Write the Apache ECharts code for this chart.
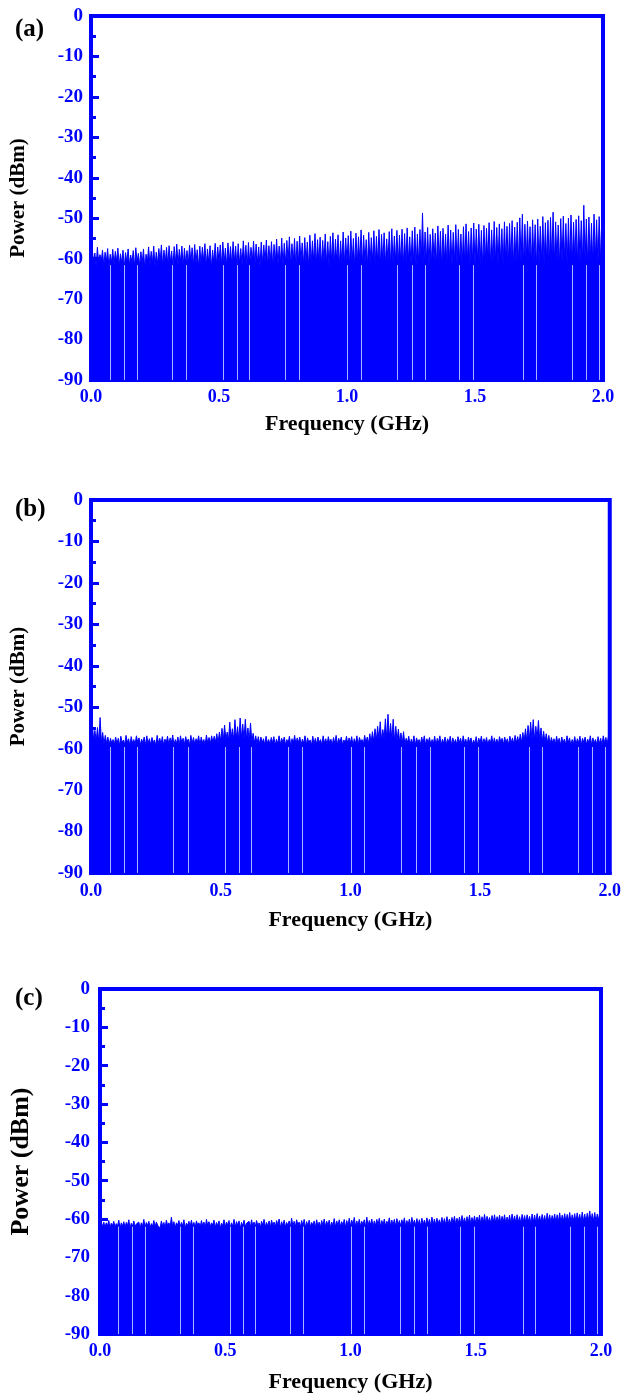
<!DOCTYPE html>
<html>
<head>
<meta charset="utf-8">
<script src="https://cdn.jsdelivr.net/npm/echarts@6.0.0/dist/echarts.min.js"></script>
<style>
  html, body { margin: 0; padding: 0; background: #fff; }
  #main { width: 624px; height: 1395px; }
</style>
</head>
<body>
<div id="main"></div>
<script>
// spectrum samples, 0.005 GHz apart, 0.0 .. 2.0 GHz
var freqStep = 0.005;

var powerA = [
  -61.5,-57.8,-60.9,-58.6,-62.0,-57.2,-61.2,-59.0,-60.6,-57.9,-61.8,-58.4,-60.8,-57.5,-62.2,-58.9,-61.0,-57.7,-61.6,-58.2,
  -60.7,-57.4,-61.9,-58.8,-61.1,-57.9,-62.3,-58.5,-60.9,-57.6,-61.5,-59.1,-61.0,-58.0,-62.1,-57.3,-60.8,-58.7,-61.7,-58.3,
  -61.2,-57.6,-62.4,-58.9,-60.9,-57.1,-61.6,-58.2,-61.0,-56.9,-62.0,-58.4,-61.3,-57.5,-60.8,-56.6,-61.9,-57.9,-61.1,-57.2,
  -61.7,-56.8,-60.9,-58.1,-62.1,-57.0,-61.2,-56.4,-61.6,-57.7,-60.8,-56.9,-62.0,-57.4,-61.3,-58.0,-61.5,-56.7,-60.9,-57.3,
  -61.8,-56.5,-61.0,-57.8,-62.2,-56.9,-61.4,-57.2,-60.7,-56.3,-61.9,-57.6,-61.1,-56.8,-62.3,-57.9,-61.2,-56.2,-61.6,-57.1,
  -60.9,-56.6,-61.8,-55.9,-61.2,-57.4,-62.0,-56.1,-61.0,-57.0,-61.7,-55.8,-60.8,-56.9,-62.1,-56.3,-61.3,-57.5,-61.6,-55.6,
  -61.0,-56.7,-62.2,-56.0,-61.4,-57.2,-60.9,-55.7,-61.8,-56.4,-61.1,-57.1,-62.0,-55.9,-61.3,-56.6,-60.8,-55.4,-61.7,-56.8,
  -61.2,-55.8,-62.1,-56.5,-60.9,-55.2,-61.6,-56.9,-61.0,-54.9,-61.9,-56.2,-61.3,-55.5,-60.7,-54.6,-61.8,-56.3,-61.1,-55.0,
  -62.0,-55.7,-61.2,-54.4,-60.8,-56.1,-61.7,-54.8,-61.0,-55.9,-62.2,-54.2,-61.3,-55.6,-60.9,-53.8,-61.6,-55.3,-61.1,-54.7,
  -61.9,-55.5,-60.8,-53.9,-61.4,-55.8,-62.1,-54.5,-61.0,-53.6,-61.7,-55.2,-60.9,-54.1,-62.0,-55.6,-61.2,-53.4,-61.5,-54.9,
  -60.8,-54.3,-61.9,-53.2,-61.1,-55.0,-62.2,-53.7,-61.3,-54.6,-60.7,-52.9,-61.8,-54.2,-61.0,-55.3,-62.0,-53.5,-61.4,-54.8,
  -60.9,-53.1,-61.7,-54.5,-61.2,-52.8,-62.1,-54.0,-61.0,-53.6,-61.6,-55.1,-60.8,-53.3,-61.9,-52.6,-61.3,-54.4,-60.9,-53.0,
  -61.8,-54.2,-61.1,-52.7,-62.0,-53.8,-61.4,-52.4,-60.7,-54.6,-61.7,-53.1,-61.0,-52.2,-62.2,-53.9,-61.3,-52.8,-60.8,-48.7,
  -61.6,-53.4,-61.0,-52.3,-61.9,-54.0,-61.2,-52.6,-60.6,-53.7,-61.8,-51.9,-61.1,-53.2,-62.4,-52.5,-60.9,-53.9,-61.5,-51.7,
  -61.0,-52.9,-61.8,-53.5,-60.8,-51.6,-61.6,-52.8,-61.1,-53.9,-62.0,-52.1,-61.3,-51.4,-60.7,-53.3,-61.9,-52.4,-61.0,-51.2,
  -61.7,-52.7,-60.9,-51.5,-61.4,-53.0,-62.1,-51.8,-61.0,-52.5,-60.6,-51.1,-61.8,-52.9,-61.2,-50.8,-60.8,-52.3,-61.6,-51.4,
  -61.0,-52.6,-61.9,-50.9,-60.7,-52.0,-61.5,-51.3,-61.1,-50.6,-62.0,-52.2,-60.9,-51.0,-61.4,-49.9,-60.8,-49.0,-61.7,-51.5,
  -61.1,-50.7,-60.6,-52.1,-61.8,-50.4,-61.0,-51.6,-62.6,-50.2,-61.3,-52.0,-60.7,-49.6,-61.5,-51.1,-60.9,-50.5,-61.8,-49.8,
  -60.8,-48.5,-61.4,-50.9,-60.6,-51.7,-61.9,-50.1,-61.0,-49.5,-60.5,-51.3,-61.6,-50.0,-60.9,-49.2,-61.2,-51.0,-60.4,-50.3,
  -61.5,-49.4,-60.8,-50.6,-61.1,-46.8,-60.6,-50.2,-61.7,-49.7,-60.9,-51.2,-61.3,-49.0,-60.5,-50.4,-61.4,-49.6,-60.7,-50.8,
  -60.9
];

var powerB = [
  -55.2,-54.0,-57.8,-55.6,-58.2,-54.9,-58.6,-52.5,-58.4,-56.1,-58.9,-56.8,-58.7,-57.2,-59.1,-57.5,-58.7,-57.8,-59.0,-57.2,
  -58.8,-57.5,-59.2,-57.0,-58.6,-57.9,-59.0,-56.8,-58.5,-57.6,-59.3,-57.1,-58.7,-57.8,-59.0,-56.9,-58.4,-57.4,-59.1,-57.7,
  -58.6,-57.2,-59.2,-56.9,-58.8,-57.6,-59.0,-57.3,-58.5,-57.9,-59.3,-56.8,-58.7,-57.5,-58.9,-57.1,-59.2,-57.7,-58.6,-57.0,
  -59.0,-57.4,-58.5,-56.7,-59.1,-57.8,-58.7,-57.2,-59.2,-56.9,-58.6,-57.5,-59.0,-57.1,-58.4,-57.7,-59.1,-56.8,-58.7,-57.3,
  -58.9,-57.6,-58.5,-56.9,-59.2,-57.2,-58.6,-57.8,-59.0,-56.7,-58.6,-57.3,-58.8,-56.9,-58.5,-57.0,-58.4,-56.4,-58.6,-56.0,
  -58.2,-55.1,-58.0,-54.3,-57.9,-56.0,-58.1,-53.6,-57.6,-55.2,-57.9,-53.0,-57.7,-54.7,-58.0,-52.6,-57.5,-54.1,-57.8,-52.9,
  -57.9,-55.0,-58.2,-53.8,-58.4,-56.3,-58.6,-56.9,-58.8,-57.1,-58.9,-57.2,-58.5,-57.6,-59.1,-57.0,-58.7,-57.8,-59.0,-57.3,
  -58.6,-57.1,-59.2,-57.7,-58.8,-56.9,-59.0,-57.5,-58.5,-57.2,-59.1,-57.8,-58.7,-57.0,-59.3,-57.6,-58.6,-56.8,-58.9,-57.4,
  -58.5,-57.2,-59.1,-57.7,-58.7,-56.9,-59.0,-57.4,-58.6,-57.9,-59.2,-57.0,-58.8,-57.5,-59.0,-57.2,-58.5,-57.8,-59.1,-56.9,
  -58.7,-57.6,-59.0,-57.1,-58.6,-57.7,-59.2,-57.3,-58.8,-56.8,-59.0,-57.5,-58.5,-57.2,-59.1,-57.9,-58.7,-57.0,-58.9,-57.4,
  -58.6,-57.1,-59.2,-57.6,-58.8,-56.9,-59.0,-57.3,-58.4,-57.8,-58.9,-56.8,-58.5,-57.2,-58.7,-56.4,-58.5,-55.9,-58.3,-55.2,
  -58.1,-54.6,-57.9,-53.5,-58.0,-55.4,-57.6,-52.8,-57.8,-51.7,-57.5,-53.9,-57.9,-52.9,-58.2,-54.6,-58.0,-55.3,-58.4,-56.2,
  -58.7,-55.9,-59.0,-57.5,-58.6,-57.0,-59.1,-57.7,-58.8,-56.9,-59.2,-57.4,-58.5,-57.8,-59.0,-57.2,-58.7,-56.9,-59.1,-57.6,
  -58.6,-57.3,-59.0,-57.8,-58.8,-57.0,-59.2,-57.5,-58.5,-56.9,-59.1,-57.7,-58.7,-57.2,-59.0,-57.6,-58.6,-57.0,-59.2,-57.4,
  -58.8,-57.8,-59.0,-57.1,-58.5,-57.5,-59.1,-56.9,-58.7,-57.7,-59.2,-57.2,-58.6,-57.4,-59.0,-57.9,-58.8,-57.1,-59.1,-57.5,
  -58.5,-57.0,-59.0,-57.6,-58.7,-57.3,-59.2,-57.8,-58.6,-56.9,-59.0,-57.4,-58.8,-57.7,-59.1,-57.1,-58.5,-57.5,-59.0,-57.2,
  -58.7,-57.6,-59.1,-57.0,-58.6,-57.4,-58.9,-56.8,-58.6,-57.1,-58.7,-56.5,-58.5,-56.1,-58.3,-55.2,-58.1,-54.4,-58.0,-53.6,
  -57.8,-53.0,-58.0,-54.6,-57.7,-53.2,-58.1,-55.0,-58.3,-55.8,-58.5,-56.4,-58.6,-56.8,-58.9,-57.3,-58.6,-57.6,-59.0,-57.0,
  -58.7,-57.5,-59.1,-57.2,-58.6,-57.7,-59.0,-56.9,-58.5,-57.4,-59.2,-57.8,-58.8,-57.1,-59.0,-57.6,-58.6,-57.0,-59.1,-57.5,
  -58.5,-57.2,-59.0,-57.7,-58.7,-56.9,-59.1,-57.4,-58.6,-57.8,-59.0,-57.1,-58.8,-57.5,-59.2,-56.9,-58.6,-57.3,-58.9,-57.0,
  -58.4
];

var powerC = [
  -60.0,-59.6,-61.9,-60.8,-62.2,-61.0,-61.8,-60.4,-62.3,-61.1,-61.7,-60.6,-62.1,-61.2,-61.9,-60.3,-62.4,-61.0,-61.8,-60.7,
  -62.2,-60.9,-61.7,-60.2,-62.3,-61.1,-61.9,-60.5,-62.0,-61.3,-61.6,-60.8,-62.4,-61.0,-61.8,-60.1,-62.1,-60.9,-61.7,-60.6,
  -62.3,-61.2,-61.9,-60.4,-62.1,-60.8,-61.6,-61.1,-62.4,-60.5,-61.8,-60.9,-62.2,-60.3,-61.7,-61.0,-62.0,-59.5,-61.9,-60.7,
  -62.3,-61.0,-61.6,-60.4,-62.1,-60.9,-61.8,-60.2,-62.4,-61.1,-61.7,-60.6,-62.0,-60.3,-61.9,-60.9,-62.2,-60.5,-61.6,-61.0,
  -62.1,-60.4,-61.8,-60.8,-62.3,-60.1,-61.7,-60.7,-62.0,-61.0,-61.6,-60.3,-62.2,-60.9,-61.8,-60.5,-62.4,-61.1,-61.7,-60.2,
  -62.0,-60.8,-61.6,-60.4,-62.3,-61.0,-61.9,-60.1,-62.1,-60.7,-61.7,-60.5,-62.4,-60.9,-61.8,-60.3,-62.0,-61.1,-61.6,-60.6,
  -62.2,-60.2,-61.8,-60.8,-62.0,-60.4,-61.7,-61.0,-62.3,-60.6,-61.6,-60.1,-62.1,-60.9,-61.9,-60.5,-62.2,-60.3,-61.7,-60.8,
  -62.0,-60.4,-61.6,-60.0,-62.3,-60.7,-61.8,-60.3,-62.1,-60.9,-61.7,-60.5,-62.2,-59.8,-61.9,-60.6,-62.0,-60.2,-61.6,-60.8,
  -62.1,-60.4,-61.7,-60.1,-62.3,-60.7,-61.8,-60.3,-62.0,-60.9,-61.6,-60.5,-62.2,-60.2,-61.9,-60.8,-62.1,-60.4,-61.7,-60.0,
  -62.0,-60.6,-61.6,-60.3,-62.2,-60.8,-61.8,-59.9,-62.1,-60.5,-61.7,-60.2,-62.0,-60.7,-61.6,-60.1,-62.2,-60.4,-61.8,-59.8,
  -61.9,-60.3,-61.5,-59.6,-62.0,-60.5,-61.7,-60.1,-61.9,-60.6,-61.5,-60.2,-62.1,-59.5,-61.8,-60.4,-61.6,-60.0,-62.0,-60.5,
  -61.7,-60.1,-61.5,-59.8,-62.0,-60.4,-61.6,-60.0,-61.9,-60.6,-61.4,-59.7,-61.8,-60.3,-61.6,-60.1,-61.9,-59.9,-61.5,-60.4,
  -61.8,-60.2,-61.5,-59.7,-61.9,-60.4,-61.6,-60.0,-61.8,-59.6,-61.4,-60.3,-61.7,-59.9,-61.5,-60.2,-61.9,-59.8,-61.4,-60.3,
  -61.6,-59.7,-61.3,-60.1,-61.7,-59.5,-61.4,-60.0,-61.6,-59.8,-61.2,-60.2,-61.5,-59.6,-61.3,-59.9,-61.6,-59.4,-61.2,-60.0,
  -61.4,-59.6,-61.1,-59.3,-61.5,-59.8,-61.2,-59.5,-61.4,-59.1,-61.0,-59.7,-61.3,-59.4,-61.1,-59.0,-61.4,-59.6,-61.0,-59.2,
  -61.2,-59.5,-60.9,-59.0,-61.3,-59.4,-61.0,-58.8,-61.2,-59.3,-60.8,-59.6,-61.1,-59.1,-60.9,-58.9,-61.2,-59.4,-60.8,-59.0,
  -61.1,-59.3,-60.8,-58.9,-61.2,-59.5,-60.9,-59.0,-61.1,-58.7,-60.7,-59.2,-61.0,-58.9,-60.8,-59.4,-61.1,-58.8,-60.7,-59.1,
  -61.0,-58.9,-60.6,-59.3,-61.1,-58.7,-60.8,-59.0,-61.0,-58.6,-60.6,-59.2,-60.9,-58.8,-60.7,-59.1,-61.0,-58.5,-60.6,-58.9,
  -60.9,-59.1,-60.5,-58.7,-61.0,-58.9,-60.7,-58.4,-60.9,-59.0,-60.5,-58.6,-60.8,-58.8,-60.6,-58.3,-60.9,-58.9,-60.5,-58.6,
  -60.8,-58.4,-60.4,-58.8,-60.9,-58.2,-60.6,-58.7,-60.8,-58.5,-60.4,-57.9,-60.7,-58.6,-60.5,-58.3,-60.8,-58.7,-60.3,-58.2,
  -59.0
];

// frequencies (GHz) where the trace drops out (thin light lines in the fill)
var dropouts = [0.074, 0.128, 0.179, 0.319, 0.374, 0.518, 0.572, 0.619, 0.759, 0.813,
  1.002, 1.054, 1.198, 1.253, 1.307, 1.440, 1.494, 1.689, 1.739, 1.879, 1.934, 1.984];
var dropTop = [-61.6, -59.6, -62.0];

var freqTicks = [0, 0.5, 1.0, 1.5, 2.0];
var powerRange = [-90, 0];
var panelLabels = ['(a)', '(b)', '(c)'];

var BLUE = '#0000ff';
var SERIF = '"Liberation Serif", "Times New Roman", serif';

function toPairs(arr) {
  var out = [];
  for (var i = 0; i < arr.length; i++) {
    out.push([+(i * freqStep).toFixed(3), arr[i]]);
  }
  return out;
}

// pixel layout of each panel
var panels = [
  { left: 89, right: 21, top: 16, height: 364, labTop: 12, xGap: 33, yGap: 62, yName: 21, yMargin: 8, xMargin: 8, data: powerA },
  { left: 89, right: 11, top: 500, height: 373, labTop: 492, xGap: 36, yGap: 62, yName: 21, yMargin: 8, xMargin: 9, data: powerB },
  { left: 98, right: 23, top: 989, height: 345, labTop: 981, xGap: 37, yGap: 66, yName: 26, yMargin: 10, xMargin: 8, data: powerC }
];

var grids = [], xAxes = [], yAxes = [], series = [], titles = [];

panels.forEach(function (p, k) {
  grids.push({
    left: p.left, right: p.right, top: p.top, height: p.height,
    show: true, borderColor: BLUE, borderWidth: 4, backgroundColor: 'transparent'
  });
  xAxes.push({
    type: 'value', gridIndex: k,
    min: freqTicks[0], max: freqTicks[freqTicks.length - 1], interval: 0.5,
    name: 'Frequency (GHz)', nameLocation: 'middle', nameGap: p.xGap,
    nameTextStyle: { color: '#000', fontFamily: SERIF, fontWeight: 'bold', fontSize: 22 },
    axisLine: { onZero: false, lineStyle: { color: BLUE, width: 4 } },
    axisTick: { show: false },
    splitLine: { show: false },
    axisLabel: {
      color: BLUE, fontFamily: SERIF, fontWeight: 'bold', fontSize: 18, margin: p.xMargin,
      formatter: function (v) { return v.toFixed(1); }
    }
  });
  yAxes.push({
    type: 'value', gridIndex: k,
    min: powerRange[0], max: powerRange[1], interval: 10,
    name: 'Power (dBm)', nameLocation: 'middle', nameGap: p.yGap,
    nameTextStyle: { color: '#000', fontFamily: SERIF, fontWeight: 'bold', fontSize: p.yName },
    axisLine: { onZero: false, lineStyle: { color: BLUE, width: 4 } },
    axisTick: { inside: true, length: 8, lineStyle: { color: BLUE, width: 3 } },
    minorTick: { show: true, splitNumber: 2, length: 5, lineStyle: { color: BLUE, width: 3 } },
    splitLine: { show: false },
    axisLabel: { color: BLUE, fontFamily: SERIF, fontWeight: 'bold', fontSize: 19, margin: p.yMargin }
  });
  series.push({
    type: 'line', xAxisIndex: k, yAxisIndex: k,
    data: toPairs(p.data),
    symbol: 'none', showSymbol: false,
    lineStyle: { color: BLUE, width: 1 },
    areaStyle: { color: BLUE, opacity: 1, origin: 'start' },
    markLine: {
      silent: true, symbol: 'none', animation: false,
      label: { show: false },
      lineStyle: { color: '#aab0ff', width: 1, type: 'solid' },
      data: dropouts.map(function (f) {
        return [{ coord: [f, powerRange[0]] }, { coord: [f, dropTop[k]] }];
      })
    }
  });
  titles.push({
    text: panelLabels[k], left: 10, top: p.labTop,
    textStyle: { color: '#000', fontFamily: SERIF, fontWeight: 'bold', fontSize: 25 }
  });
});

var chart = echarts.init(document.getElementById('main'), null, { renderer: 'canvas' });
chart.setOption({
  animation: false,
  backgroundColor: '#fff',
  title: titles,
  grid: grids,
  xAxis: xAxes,
  yAxis: yAxes,
  series: series
});
</script>
</body>
</html>
